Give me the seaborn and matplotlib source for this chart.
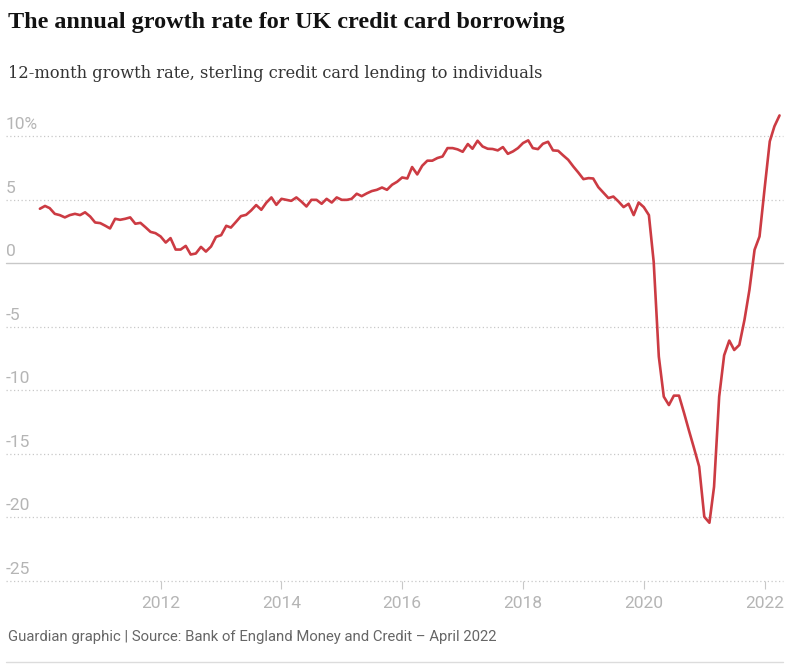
"""
UK credit card borrowing: 12-month growth rate (Guardian-style line chart)
"""

import numpy as np
import pandas as pd
import matplotlib
matplotlib.use("Agg")
import matplotlib.pyplot as plt
import matplotlib.dates as mdates
import matplotlib.transforms as mtransforms
import seaborn as sns


# ─── Data ─────────────────────────────────────────────────────────────────────

# monthly, Jan 2010 – Apr 2022
DATES = pd.date_range("2010-01-01", "2022-04-01", freq="MS")

GROWTH = [
    4.28, 4.50, 4.33, 3.88, 3.78, 3.60, 3.78, 3.88, 3.78, 4.00, 3.67, 3.20,   # 2010
    3.15, 2.94, 2.73, 3.49, 3.41, 3.49, 3.60, 3.10, 3.17, 2.83, 2.46, 2.36,   # 2011
    2.10, 1.62, 1.97, 1.07, 1.07, 1.36, 0.68, 0.76, 1.28, 0.91, 1.31, 2.07,   # 2012
    2.20, 2.94, 2.80, 3.25, 3.70, 3.80, 4.14, 4.57, 4.20, 4.75, 5.17, 4.59,   # 2013
    5.06, 4.98, 4.90, 5.17, 4.85, 4.46, 4.98, 4.98, 4.67, 5.06, 4.77, 5.17,   # 2014
    4.98, 4.98, 5.06, 5.46, 5.27, 5.49, 5.67, 5.77, 5.95, 5.77, 6.17, 6.40,   # 2015
    6.74, 6.66, 7.56, 6.98, 7.66, 8.06, 8.06, 8.27, 8.39, 9.05, 9.05, 8.95,   # 2016
    8.76, 9.37, 9.00, 9.63, 9.18, 9.00, 8.98, 8.87, 9.13, 8.60, 8.79, 9.05,   # 2017
    9.45, 9.66, 9.05, 8.97, 9.39, 9.55, 8.87, 8.84, 8.47, 8.13, 7.60, 7.13,   # 2018
    6.61, 6.69, 6.66, 5.98, 5.56, 5.12, 5.24, 4.85, 4.41, 4.67, 3.78, 4.77,   # 2019
    4.41, 3.78, 0.10, -7.35, -10.50, -11.16, -10.42, -10.42, -11.80, -13.20, -14.60, -16.00,  # 2020
    -19.95, -20.42, -17.59, -10.50, -7.25, -6.09, -6.83, -6.43, -4.46, -2.10, 1.05, 2.10,    # 2021
    5.90, 9.58, 10.76, 11.62,                                                 # 2022
]

Y_TICKS  = [10, 5, 0, -5, -10, -15, -20, -25]
Y_LABELS = ["10%", "5", "0", "-5", "-10", "-15", "-20", "-25"]
X_YEARS  = [2012, 2014, 2016, 2018, 2020, 2022]

TITLE    = "The annual growth rate for UK credit card borrowing"
SUBTITLE = "12-month growth rate, sterling credit card lending to individuals"
SOURCE   = "Guardian graphic | Source: Bank of England Money and Credit \u2013 April 2022"

LINE_COLOR = "#cc3b43"
GRID_COLOR = "#c8c8c8"
TICK_COLOR = "#b5b5b5"

W, H = 798, 664


# ─── Figure ───────────────────────────────────────────────────────────────────

sns.set_style("white")
plt.rcParams["font.family"] = ["Roboto", "DejaVu Sans"]

fig = plt.figure(figsize=(W / 100, H / 100), dpi=100)

# axes box in pixel terms: left 6, right 783, top ~110, bottom 581 (-25 line)
ax = fig.add_axes([6 / W, 83 / H, 777 / W, (581 - 110.6) / H])

df = pd.DataFrame({"date": DATES, "growth": GROWTH})
sns.lineplot(data=df, x="date", y="growth", ax=ax, color=LINE_COLOR,
             linewidth=1.9, legend=False)

ax.set_xlim(pd.Timestamp("2009-06-10"), pd.Timestamp("2022-04-22"))
ax.set_ylim(-25, 12)

# grid: dotted, with solid zero line
for v in Y_TICKS:
    if v == 0:
        ax.axhline(v, color=GRID_COLOR, lw=1.0, zorder=0, clip_on=False)
    else:
        ax.axhline(v, color=GRID_COLOR, lw=0.9, ls=(0, (1, 2)), zorder=0,
                   clip_on=False)

for s in ax.spines.values():
    s.set_visible(False)

ax.set_xlabel("")
ax.set_ylabel("")
ax.set_yticks([])

# y labels sit just above their gridline, flush left
trans = mtransforms.blended_transform_factory(ax.transAxes, ax.transData)
offset = mtransforms.ScaledTranslation(0, 4 / 100, fig.dpi_scale_trans)
for v, lab in zip(Y_TICKS, Y_LABELS):
    ax.text(0, v, lab, transform=trans + offset, ha="left", va="bottom",
            fontsize=12.5, color=TICK_COLOR)

# x ticks at year starts
ax.set_xticks([pd.Timestamp(f"{y}-01-01") for y in X_YEARS])
ax.xaxis.set_major_formatter(mdates.DateFormatter("%Y"))
ax.tick_params(axis="x", length=6, width=0.8, color=GRID_COLOR, pad=5,
               labelsize=12.5, labelcolor=TICK_COLOR, bottom=True)

# ─── Text ─────────────────────────────────────────────────────────────────────

fig.text(8 / W, 1 - 28 / H, TITLE, ha="left", va="baseline",
         fontsize=17.4, fontweight="bold", family=["Liberation Serif", "DejaVu Serif"],
         color="#121212")
fig.text(8 / W, 1 - 78 / H, SUBTITLE, ha="left", va="baseline",
         fontsize=11.7, family=["DejaVu Serif"], color="#333333")
fig.text(8 / W, 1 - 641 / H, SOURCE, ha="left", va="baseline",
         fontsize=10.7, color="#666666")

# bottom rule
fig.add_artist(plt.Line2D([6 / W, 783 / W], [1 - 662 / H, 1 - 662 / H],
                          transform=fig.transFigure, color="#dcdcdc", lw=1))

fig.savefig("out.png", dpi=100)
plt.close(fig)
